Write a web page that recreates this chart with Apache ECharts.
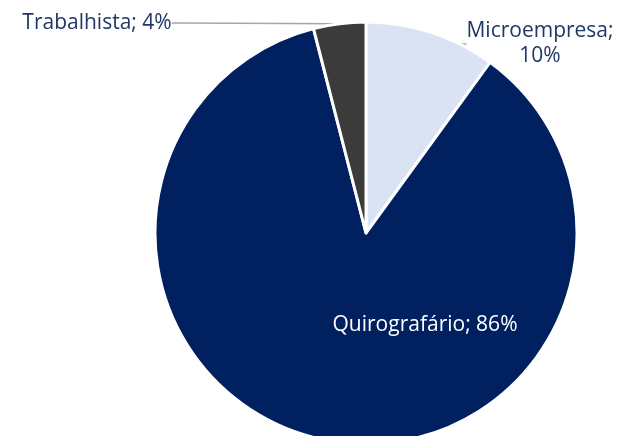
<!DOCTYPE html>
<html>
<head>
<meta charset="utf-8">
<script src="https://cdn.jsdelivr.net/npm/echarts@6/dist/echarts.min.js"></script>
<style>
html,body{margin:0;padding:0;background:#fff;}
#chart{width:626px;height:436px;}
</style>
</head>
<body>
<div id="chart"></div>
<script>
var categories = ['Microempresa', 'Quirografário', 'Trabalhista'];
var values = [10, 86, 4];
var colors = ['#DAE3F3', '#002060', '#3B3B3B'];

var chart = echarts.init(document.getElementById('chart'));

// where each label sits (x, y, align)
var labelPos = [
    {x: 540, y: 44, align: 'center'},
    {x: 425, y: 325, align: 'center'},
    {x: 97, y: 23, align: 'center'}
];

var data = categories.map(function(c, i){
    var item = {
        name: c,
        value: values[i],
        itemStyle: {color: colors[i]}
    };
    if(i == 1){
        item.label = {position: 'inside', color: '#ffffff'};
        item.labelLine = {show: false};
    }
    return item;
});

var option = {
    animation: false,
    series: [
        {
            type: 'pie',
            center: [366, 233],
            radius: [0, 211],
            startAngle: 90,
            clockwise: true,
            data: data,
            itemStyle: {
                borderColor: '#ffffff',
                borderWidth: 3
            },
            label: {
                show: true,
                fontFamily: 'Open Sans',
                fontSize: 21,
                color: '#1F3864',
                lineHeight: 25,
                formatter: function(p){
                    if(p.dataIndex == 0) return p.name + ';\n' + p.value + '%';
                    return p.name + '; ' + p.value + '%';
                }
            },
            labelLine: {
                show: true,
                length: 8,
                length2: 8,
                lineStyle: {color: '#A6A6A6', width: 1.5}
            },
            labelLayout: function(p){
                var pos = labelPos[p.dataIndex];
                return {x: pos.x, y: pos.y, align: pos.align, verticalAlign: 'middle'};
            }
        }
    ]
};
chart.setOption(option);
</script>
</body>
</html>
